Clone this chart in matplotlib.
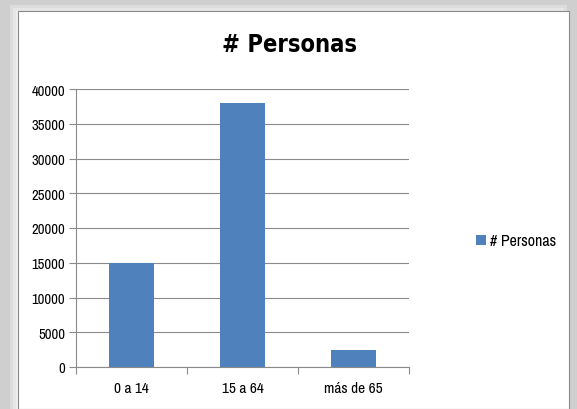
import matplotlib.pyplot as plt
from matplotlib.patches import Rectangle
from matplotlib import font_manager

categories = ["0 a 14", "15 a 64", "más de 65"]
personas = [15000, 38000, 2400]
yticks = [0, 5000, 10000, 15000, 20000, 25000, 30000, 35000, 40000]

names = sorted({f.name for f in font_manager.fontManager.ttflist})
narrow = [n for n in names if 'Narrow' in n or 'Condensed' in n]
fam = narrow[0] if narrow else "DejaVu Sans"
plt.rcParams['font.family'] = [fam, 'DejaVu Sans']
plt.rcParams['font.stretch'] = 'condensed'

W, H = 577, 410
fig = plt.figure(figsize=(W / 100, H / 100), dpi=100)
fig.patch.set_facecolor('#cfcfcf')

# white chart area with soft shadowed border
for i, c in enumerate(['#dcdcdc', '#e6e6e6', '#efefef']):
    fig.patches.append(Rectangle(((10 + 3 * i) / W, 0), (W - 20 - 6 * i) / W, (H - 6 - 3 * i) / H,
                                 transform=fig.transFigure, facecolor=c, edgecolor='none', zorder=-3))
fig.patches.append(Rectangle((18 / W, 0), (W - 26) / W, (H - 12) / H,
                             transform=fig.transFigure, facecolor='white',
                             edgecolor='#8a8a8a', linewidth=0.8, zorder=-2))

ax = fig.add_axes([76 / W, (H - 368) / H, (409 - 76) / W, (368 - 90) / H])
ax.set_zorder(1)
ax.set_facecolor('none')
x = range(len(categories))
bars = ax.bar(x, personas, width=0.4, color='#4f81bd', label='# Personas', zorder=3)

ax.set_xlim(-0.5, 2.5)
ax.set_ylim(0, 40000)
ax.set_yticks(yticks)
ax.set_yticklabels([str(v) for v in yticks], fontsize=10.5)
ax.set_xticks([-0.5, 0.5, 1.5, 2.5])
ax.set_xticklabels([])
ax.set_xticks(list(x), minor=True)
ax.set_xticklabels(categories, minor=True, fontsize=11)
ax.tick_params(axis='x', which='minor', length=0, pad=10)
ax.tick_params(axis='x', which='major', length=5, color='#8a8a8a', direction='out')
ax.tick_params(axis='y', length=5, color='#8a8a8a', direction='out', pad=3)
ax.grid(axis='y', color='#8a8a8a', linewidth=0.8, zorder=0)
for s in ['top', 'right']:
    ax.spines[s].set_visible(False)
for s in ['left', 'bottom']:
    ax.spines[s].set_color('#8a8a8a')
    ax.spines[s].set_linewidth(0.8)

fig.text(290 / W, 1 - 45 / H, "# Personas", ha='center', va='center',
         fontsize=17, fontweight='bold', family='DejaVu Sans', fontstretch='condensed')
fig.legend(handles=[bars], labels=['# Personas'], loc='center left',
           bbox_to_anchor=(476 / W, 1 - 242 / H),
           frameon=False, fontsize=11.5, handlelength=0.6, handleheight=0.6,
           handletextpad=0.3, borderpad=0, borderaxespad=0)

fig.savefig('out.png', dpi=100)
